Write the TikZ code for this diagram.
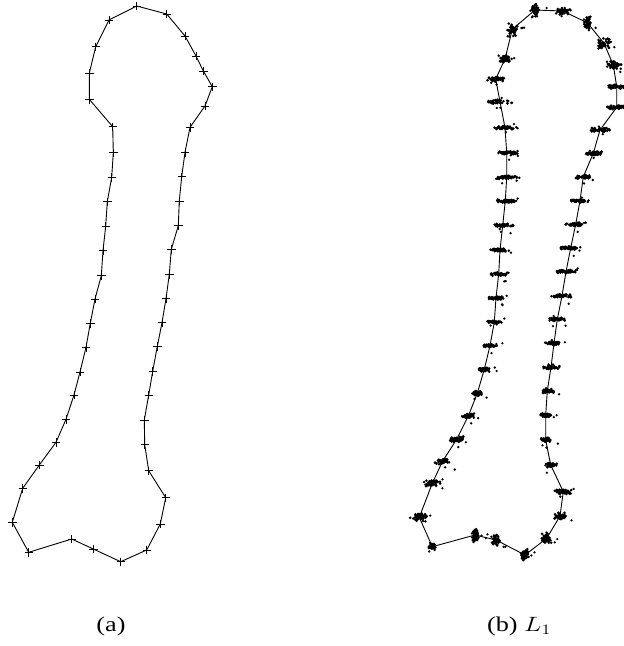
\documentclass[tikz,border=0pt]{standalone}
\usepackage{fontspec}
\setmainfont{Liberation Serif}
\begin{document}
\begin{tikzpicture}[x=1pt,y=-1pt]
\tikzset{
  outline/.style={line width=0.9pt, line join=round},
  dotmark/.style={fill=black},
  lab/.style={anchor=base, inner sep=0pt, font=\fontsize{21}{25}\selectfont}
}
\useasboundingbox (0,0) rectangle (624,646);
\clip (0,0) rectangle (624,646);
% (a)
\draw[outline] plot[mark=+, mark size=4.2pt, mark options={line width=0.9pt}] coordinates {
(136.7,6) (166.7,14) (185,36) (196,56) (203.3,71) (212.3,86.7) (205,106) (190,127.3)
(185,152.3) (181.7,176.7) (179.3,201) (178.3,225.7) (171.3,249.3) (169.3,274.3)
(166,298.7) (162,322.7) (157.3,346.3) (152.7,371.3) (148.7,395) (144.3,420)
(144.7,444.7) (148.7,470.7) (165.7,497.7) (160.3,524) (146.7,550) (120.7,561.7)
(93.3,549) (71.7,539) (28.7,552.3) (12.3,522.3) (22.7,488.3) (39.3,465) (56,442.3)
(66,419.3) (74,395) (80,372) (86,347.3) (90.3,323.3) (95,299) (101.3,275.7)
(103,250.7) (105.7,226) (107.3,201.7) (111.7,177.3) (113.3,152.7) (112.7,126.7)
(89.3,99.3) (89.3,73.3) (95.7,46.7) (109,20) (136.7,6)};
% (b)
\draw[outline] plot coordinates {
(535,10) (562.7,11) (587.3,22.7) (604,43.3) (613.3,65) (616.7,86.7) (616.7,107.3)
(600,130) (593.3,153.3) (583.3,176.7) (580,200.7) (575.7,224.3) (570.7,248)
(566,271.7) (562,296) (557.3,319.3) (554,343.3) (551,367.3) (547.3,391) (545.7,415)
(545.7,440) (550.7,465) (563.3,491.7) (560,516) (546.7,538.3) (525,555) (496,540)
(475,535) (432.3,546.7) (419.3,517.3) (432.3,483.3) (442.3,461.7) (456.7,439.3)
(468.3,416) (477.3,393.3) (484.3,369.3) (490,345.7) (494.3,322) (496,298)
(498.7,274) (500,250) (502.7,225.3) (505.3,201) (506.7,177.3) (506.7,152.7)
(505,127.7) (500,101.7) (495.7,79) (505,59) (512.3,29.3) (535,10)};
\pgfmathsetseed{7}
\foreach \px/\py/\sx/\sy in {
535/10/3/6, 562.7/11/6/3, 587.3/22.7/3/6, 604/43.3/5/5, 613.3/65/6/4,
616.7/86.7/8/2, 616.7/107.3/8/2, 600/130/9/2, 593.3/153.3/7/2,
583.3/176.7/7/1.5, 580/200.7/8/1.5, 575.7/224.3/8/1.5, 570.7/248/8/1.5,
566/271.7/8/1.5, 562/296/8/1.5, 557.3/319.3/8/1.5, 554/343.3/7/1.5,
551/367.3/7/1.5, 547.3/391/5/2, 545.7/415/4/2, 545.7/440/4/2,
550.7/465/5/2, 563.3/491.7/6/2, 560/516/5/3, 546.7/538.3/4/5,
525/555/3/5, 496/540/3/5, 475/535/3/6, 432.3/546.7/3/3,
419.3/517.3/7/4, 432.3/483.3/6/3, 442.3/461.7/6/2.5, 456.7/439.3/6/2.5,
468.3/416/5/2, 477.3/393.3/4/2, 484.3/369.3/4/2, 490/345.7/5/1.5,
494.3/322/6/1.5, 496/298/6/1.5, 498.7/274/7/1.5, 500/250/7/1.5,
502.7/225.3/8/1.5, 505.3/201/9/1.5, 506.7/177.3/9/1.5, 506.7/152.7/9/1.5,
505/127.7/9/1.5, 500/101.7/10/2, 495.7/79/7/2, 505/59/5/3, 512.3/29.3/4/6}{
  \foreach \k in {1,...,50}{
    \pgfmathsetmacro\dx{\sx*(rand+rand)/1.4}
    \pgfmathsetmacro\dy{\sy*(rand+rand)/1.6}
    \fill[dotmark] (\px+\dx,\py+\dy) circle[radius=1.4pt];
  }
  \foreach \k in {1,2,3}{
    \pgfmathsetmacro\dx{4+9*rand}
    \pgfmathsetmacro\dy{2+6*rand}
    \fill[dotmark] (\px+\dx,\py+\dy) circle[radius=1.3pt];
  }
}
% labels
\node[lab] (la) at (111,631) {\scalebox{1.25}[1]{(a)}};
\node[lab] (lb) at (519,631) {\scalebox{1.25}[1]{(b) $L_1$}};
\end{tikzpicture}
\end{document}
